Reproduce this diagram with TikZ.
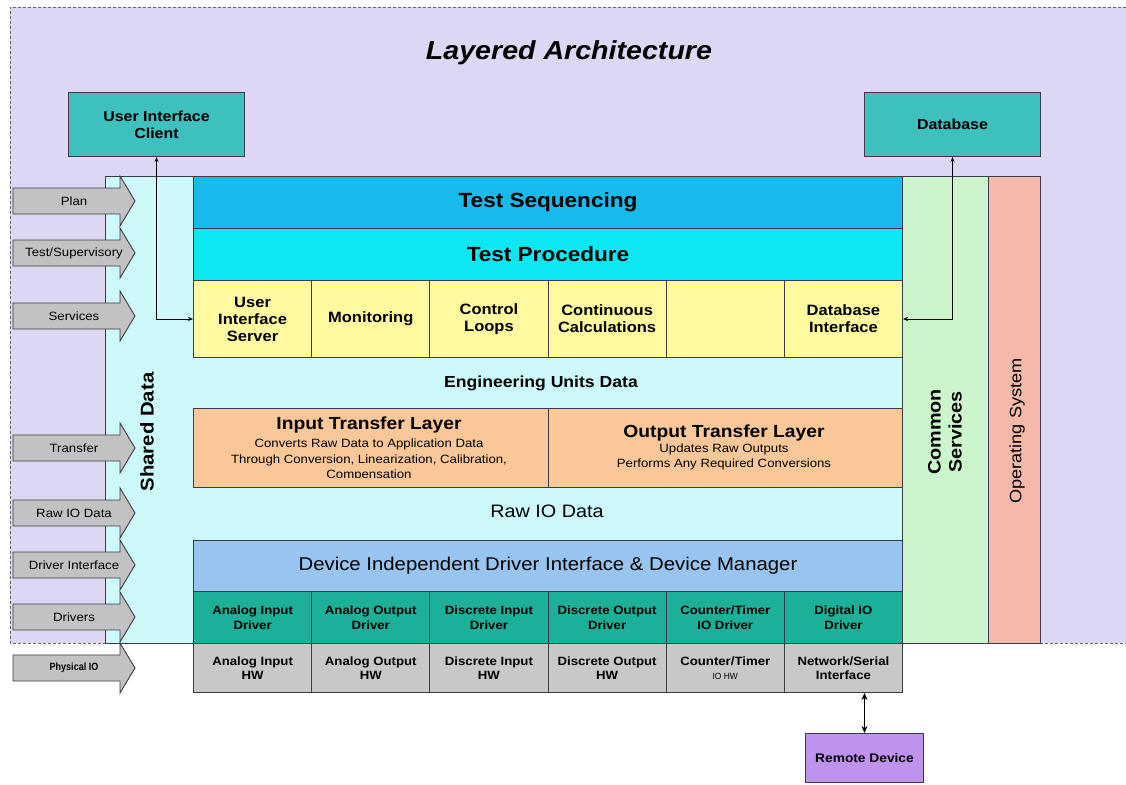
\documentclass[tikz,border=0pt]{standalone}
\usepackage{fontspec}
\setmainfont{Liberation Sans}[FakeStretch=1.1]
\usetikzlibrary{arrows.meta}
\definecolor{lav}{RGB}{221,215,244}
\definecolor{sharedc}{RGB}{204,250,250}
\definecolor{tealc}{RGB}{62,192,190}
\definecolor{seqc}{RGB}{22,186,236}
\definecolor{procc}{RGB}{12,232,242}
\definecolor{yelc}{RGB}{255,249,160}
\definecolor{peachc}{RGB}{250,200,152}
\definecolor{didic}{RGB}{152,196,240}
\definecolor{drvc}{RGB}{28,176,152}
\definecolor{hwc}{RGB}{200,200,200}
\definecolor{commc}{RGB}{204,245,204}
\definecolor{osc}{RGB}{244,185,170}
\definecolor{remc}{RGB}{192,146,240}
\definecolor{arrg}{RGB}{194,194,194}
\definecolor{bord}{RGB}{60,60,70}
\newcommand{\fsz}[2]{\fontsize{#1}{#2}\selectfont}
\newcommand{\larr}[4]{%
  \path[larrow] (13,#1-13) -- (120,#1-13) -- (120,#1-25) -- (135,#1) -- (120,#1+25) -- (120,#1+13) -- (13,#1+13) -- cycle;
  \node[lbl, font=#4] (#2) at (74,#1) {#3};}
\begin{document}
\begin{tikzpicture}[x=1pt,y=-1pt,
  box/.style={draw=bord, line width=1pt, anchor=north west, inner sep=0pt, align=center, text=black},
  lbl/.style={align=center, inner sep=0pt, text=black},
  conn/.style={draw=black, line width=0.8pt},
  larrow/.style={fill=arrg, draw=bord, line width=0.9pt},
  dashline/.style={draw=black!60, line width=0.8pt, dash pattern=on 3pt off 2pt},
  ycell/.style={box, fill=yelc, minimum width=118.17pt, minimum height=77pt, font=\fsz{15}{17}\bfseries},
  dcell/.style={box, fill=drvc, minimum width=118.17pt, minimum height=52pt, font=\fsz{12}{15}\bfseries},
  hcell/.style={box, fill=hwc, minimum width=118.17pt, minimum height=49pt, font=\fsz{12}{14}\bfseries}]
\useasboundingbox (0,0) rectangle (1126,784);
\fill[white] (0,0) rectangle (1126,784);
\fill[lav] (10,7) rectangle (1126,643);
\draw[dashline] (1126,7) -- (10,7) -- (10,643) -- (105,643);
\draw[dashline] (1040,643) -- (1126,643);

\node[lbl, font=\fsz{26}{30}\bfseries\itshape] (title) at (569,53) {Layered Architecture};

\node[box, fill=tealc, minimum width=176pt, minimum height=64pt, font=\fsz{14.5}{17}\bfseries] (uic) at (68,92) {User Interface\\Client};
\node[box, fill=tealc, minimum width=176pt, minimum height=64pt, font=\fsz{14.5}{17}\bfseries] (db) at (864,92) {Database};

% big panels
\node[box, fill=sharedc, minimum width=797pt, minimum height=467pt] (shared) at (105,176) {};
\node[box, fill=commc, minimum width=86pt, minimum height=467pt] (common) at (902,176) {};
\node[box, fill=osc, minimum width=52pt, minimum height=467pt] (os) at (988,176) {};
\node[lbl, rotate=90, font=\fsz{18.5}{21}\bfseries] (sharedT) at (147,432) {Shared Data};
\node[lbl, rotate=90, font=\fsz{18}{21}\bfseries] (commonT) at (945,432) {Common\\Services};
\node[lbl, rotate=90, font=\fsz{16.5}{20}] (osT) at (1017,431) {Operating System};

% layers
\node[box, fill=seqc, minimum width=709pt, minimum height=52pt, font=\fsz{20.5}{24}\bfseries] (seq) at (193,176) {Test Sequencing};
\node[box, fill=procc, minimum width=709pt, minimum height=52pt, font=\fsz{20.5}{24}\bfseries] (proc) at (193,228) {Test Procedure};

\node[ycell] (uis) at (193,280) {User\\Interface\\Server};
\node[ycell] (mon) at (311.17,280) {Monitoring};
\node[ycell] (cl) at (429.33,280) {Control\\Loops};
\node[ycell] (cc) at (547.5,280) {Continuous\\Calculations};
\node[ycell] (emp) at (665.67,280) {};
\node[ycell] (dbi) at (783.83,280) {Database\\Interface};

\node[lbl, font=\fsz{16}{19}\bfseries] (eng) at (541,383) {Engineering Units Data};

\node[box, fill=peachc, minimum width=354.5pt, minimum height=79pt] (inl) at (193,408) {};
\node[box, fill=peachc, minimum width=354.5pt, minimum height=79pt] (outl) at (547.5,408) {};
\begin{scope}
\clip (193,408) rectangle (547.5,477.5);
\node[lbl, font=\fsz{17.5}{20}\bfseries] (inT) at (369,425) {Input Transfer Layer};
\node[lbl, font=\fsz{12}{15.5}, anchor=north] (inS) at (369,439) {Converts Raw Data to Application Data\\Through Conversion, Linearization, Calibration,\\Compensation};
\end{scope}
\node[lbl, font=\fsz{17.5}{20}\bfseries] (outT) at (724,433) {Output Transfer Layer};
\node[lbl, font=\fsz{12}{15}, anchor=north] (outS) at (724,444) {Updates Raw Outputs\\Performs Any Required Conversions};

\node[lbl, font=\fsz{18}{21}] (raw) at (547,511) {Raw IO Data};

\node[box, fill=didic, minimum width=709pt, minimum height=51pt, font=\fsz{18.5}{22}] (didi) at (193,540) {Device Independent Driver Interface \& Device Manager};

\node[dcell] (d1) at (193,591) {Analog Input\\Driver};
\node[dcell] (d2) at (311.17,591) {Analog Output\\Driver};
\node[dcell] (d3) at (429.33,591) {Discrete Input\\Driver};
\node[dcell] (d4) at (547.5,591) {Discrete Output\\Driver};
\node[dcell] (d5) at (665.67,591) {Counter/Timer\\IO Driver};
\node[dcell] (d6) at (783.83,591) {Digital IO\\Driver};

\node[hcell] (h1) at (193,643) {Analog Input\\HW};
\node[hcell] (h2) at (311.17,643) {Analog Output\\HW};
\node[hcell] (h3) at (429.33,643) {Discrete Input\\HW};
\node[hcell] (h4) at (547.5,643) {Discrete Output\\HW};
\node[hcell] (h5) at (665.67,643) {Counter/Timer\\{\fsz{9}{12}\mdseries\scalebox{0.85}[1]{IO HW}}};
\node[hcell] (nsi) at (783.83,643) {Network/Serial\\Interface};

\node[box, fill=remc, minimum width=118pt, minimum height=49pt, font=\fsz{12.5}{15}\bfseries] (rd) at (805,733) {Remote Device};

% left arrows
\larr{201}{aplan}{Plan}{\fsz{12}{14}}
\larr{253}{atest}{Test/Supervisory}{\fsz{12}{14}}
\larr{316}{aserv}{Services}{\fsz{12}{14}}
\larr{448}{atran}{Transfer}{\fsz{12}{14}}
\larr{513}{araw}{Raw IO Data}{\fsz{12}{14}}
\larr{565}{adrvi}{Driver Interface}{\fsz{12}{14}}
\larr{617}{adrv}{Drivers}{\fsz{12}{14}}
\larr{668}{aphys}{\scalebox{0.78}[1]{Physical IO}}{\fsz{10.5}{12}\bfseries}

% connectors
\draw[conn, {Stealth[length=5pt,width=4pt]}-{Stealth[length=5pt,width=4pt]}] (uic.south) -- (uic.south |- uis.west) -- (uis.west);
\draw[conn, {Stealth[length=5pt,width=4pt]}-{Stealth[length=5pt,width=4pt]}] (db.south) -- (db.south |- dbi.east) -- (dbi.east);
\draw[conn, line width=1.2pt, {Stealth[length=7pt,width=6pt]}-{Stealth[length=7pt,width=6pt]}] (rd.north |- nsi.south) -- (rd.north);
\end{tikzpicture}
\end{document}
